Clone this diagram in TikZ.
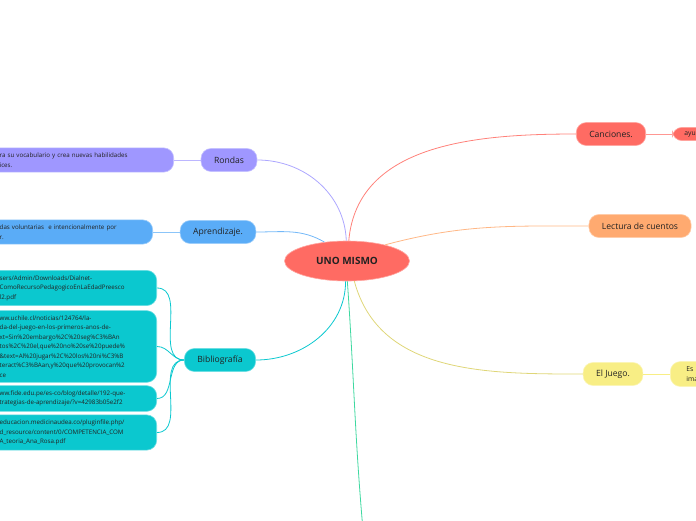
\documentclass[tikz,border=0pt]{standalone}
\usepackage{fontspec}
\setmainfont{Open Sans}
\usetikzlibrary{shapes.geometric}
\definecolor{redc}{HTML}{FF6B63}
\definecolor{purc}{HTML}{9F97FF}
\definecolor{bluc}{HTML}{5AACF7}
\definecolor{tealc}{HTML}{0BC8CF}
\definecolor{orac}{HTML}{FFAA70}
\definecolor{yelc}{HTML}{F8EE85}
\definecolor{grnc}{HTML}{3ED8A0}
\definecolor{txtc}{HTML}{222222}
\tikzset{
  topic/.style={rectangle,rounded corners=10pt,fill=#1,draw=#1!60!white,line width=0.6pt,
    minimum height=23pt,inner xsep=13pt,text=txtc,font=\fontsize{8.6}{10}\selectfont},
  leaf/.style={rectangle,rounded corners=10pt,fill=#1,draw=#1!60!white,line width=0.6pt,
    inner xsep=12pt,inner ysep=5pt,align=left,anchor=east,text=txtc,
    font=\fontsize{6.2}{9.5}\selectfont},
  link/.style={#1,line width=0.8pt}
}
\begin{document}
\begin{tikzpicture}[x=1pt,y=-1pt]
  \useasboundingbox (0,0) rectangle (696,520);
  \node[ellipse,fill=redc,draw=redc!60!white,line width=0.6pt,minimum width=125pt,minimum height=40pt,
    font=\fontsize{10}{12}\selectfont\bfseries,text=txtc] (uno) at (347,261) {UNO MISMO};
  % left branch
  \node[topic=purc] (rondas) at (229,160) {Rondas};
  \node[topic=bluc] (apren) at (218,232) {Aprendizaje.};
  \node[topic=tealc] (biblio) at (220,360) {Bibliografía};
  \node[leaf=purc,text width=162pt] (rondasT) at (174,160)
    {ra su vocabulario y crea nuevas habilidades\\ices.};
  \node[leaf=bluc,text width=141pt] (aprenT) at (153,232)
    {das voluntarias\ \ e intencionalmente por\\r.};
  \foreach \y/\t [count=\i] in {288/{sers/Admin/Downloads/Dialnet-\\ComoRecursoPedagogicoEnLaEdadPreesco\\l2.pdf},
      346.5/{ww.uchile.cl/noticias/124764/la-\\da-del-juego-en-los-primeros-anos-de-\\xt=Sin\%20embargo\%2C\%20seg\%C3\%BAn\\tos\%2C\%20el,que\%20no\%20se\%20puede\%\\\&text=Al\%20jugar\%2C\%20los\%20ni\%C3\%B\\teract\%C3\%BAan,y\%20que\%20provocan\%2\\ce},
      398.5/{ww.fide.edu.pe/es-co/blog/detalle/192-que-\\trategias-de-aprendizaje/?v=42983b05e2f2},
      432.5/{educacion.medicinaudea.co/pluginfile.php/\\d\_resource/content/0/COMPETENCIA\_COM\\A\_teoria\_Ana\_Rosa.pdf}}{%
    \node[leaf=tealc,text width=145pt] (bib\i) at (157,\y) {\t};
    \draw[link=tealc] (biblio.west) to[out=180,in=0] (bib\i.east);
  }
  % right branch
  \node[topic=redc] (canc) at (611,134) {Canciones.};
  \node[topic=orac] (lect) at (640,226) {Lectura de cuentos};
  \node[topic=yelc] (juego) at (613,374) {El Juego.};
  \node[leaf=redc,anchor=west,text width=40pt,inner ysep=4pt,font=\fontsize{6.8}{9}\selectfont] (cancT) at (672,134) {ayu};
  \node[leaf=yelc,anchor=west,text width=40pt,inner xsep=16pt,font=\fontsize{6.8}{10}\selectfont] (juegoT) at (670,374) {Es\\ima};
  \coordinate (abajo) at (363,530);
  % connectors
  \draw[link=purc!85!white] (rondas.east) to[out=0,in=92] (uno.92);
  \draw[link=bluc!85!white] (apren.east) to[out=0,in=150] (uno.140);
  \draw[link=tealc] (biblio.east) to[out=0,in=-90] (uno.266);
  \draw[link=grnc] (uno.271) to[out=-86,in=95] (abajo);
  \draw[link=redc!85!white] (uno.85) to[out=85,in=180] (canc.west);
  \draw[link=orac!85!white] (uno.23) to[out=15,in=180] (lect.west);
  \draw[link=yelc!90!black] (uno.290) to[out=-75,in=180] (juego.west);
  \draw[link=purc!70!white] (rondasT) -- (rondas);
  \draw[link=bluc!70!white] (aprenT) -- (apren);
  \draw[link=redc!70!white] (canc) -- (cancT);
  \draw[link=yelc] (juego) -- (juegoT);
\end{tikzpicture}
\end{document}
